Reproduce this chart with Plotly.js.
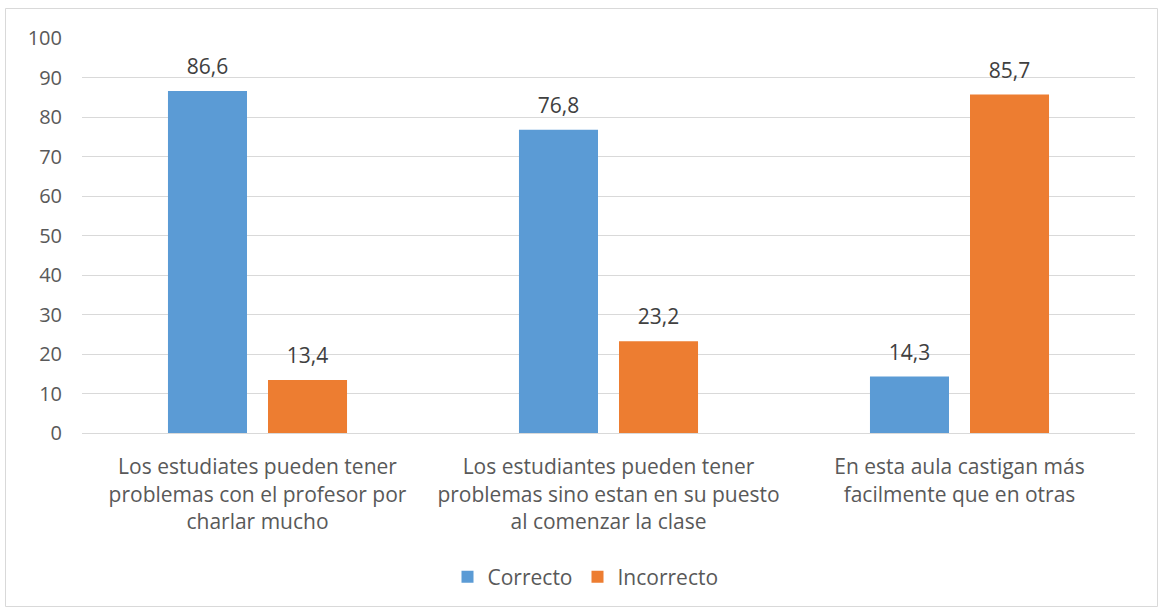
<!DOCTYPE html>
<html>
<head>
<meta charset="utf-8">
<script src="https://cdn.plot.ly/plotly-3.0.1.min.js"></script>
<style>html,body{margin:0;padding:0;background:#fff;}#chart{width:1160px;height:610px;}</style>
</head>
<body>
<div id="chart"></div>
<script>
const categories = [
  "Los estudiates pueden tener<br>problemas con el profesor por<br>charlar mucho",
  "Los estudiantes pueden tener<br>problemas sino estan en su puesto<br>al comenzar la clase",
  "En esta aula castigan más<br>facilmente que en otras"
];
const correcto = [86.6, 76.8, 14.3];
const incorrecto = [13.4, 23.2, 85.7];
const yTicks = [0,10,20,30,40,50,60,70,80,90,100];

const fmt = v => v.toFixed(1).replace('.', ',');
const FONT = "Open Sans, Noto Sans, sans-serif";
const L = 82, R = 1135, T = 38, B = 433;
const px = x => (x - L) / (R - L);
const py = y => (B - y) / (B - T);

function barTrace(name, vals, color, grp) {
  return {type:'bar', name:name, x:categories, y:vals, marker:{color:color},
    offsetgroup:grp, hoverinfo:'y'};
}
function labelTrace(vals, grp) {
  return {type:'scatter', mode:'markers+text', x:categories, y:vals, offsetgroup:grp,
    text:vals.map(fmt), textposition:'top center', cliponaxis:false, showlegend:false,
    marker:{size:17, opacity:0}, textfont:{family:FONT, size:21, color:'#404040'}, hoverinfo:'skip'};
}

const traces = [
  barTrace('Correcto', correcto, '#5B9BD5', 'c'),
  barTrace('Incorrecto', incorrecto, '#ED7D31', 'i'),
  labelTrace(correcto, 'c'),
  labelTrace(incorrecto, 'i')
];

const layout = {
  width:1160, height:610,
  margin:{l:L, r:1160-R, t:T, b:610-B},
  paper_bgcolor:'#fff', plot_bgcolor:'#fff',
  barmode:'group', scattermode:'group', bargap:0.43, bargroupgap:0.21,
  font:{family:FONT, size:20, color:'#595959'},
  xaxis:{type:'category', tickfont:{family:FONT, size:21, color:'#595959'},
    showline:true, linecolor:'#D9D9D9', linewidth:1, ticks:'', showgrid:false, automargin:false,
    ticklabelstandoff:15},
  yaxis:{range:[0,100], tickvals:yTicks, ticktext:yTicks.map(String), showgrid:true, gridcolor:'#D9D9D9',
    gridwidth:1, zeroline:false, showline:false, ticks:'', ticklen:0, ticklabelstandoff:19,
    tickfont:{family:FONT, size:20, color:'#595959'}, automargin:false},
  showlegend:true,
  legend:{orientation:'h', x:px(585.5), xanchor:'center', y:py(577), yanchor:'middle',
    font:{family:FONT, size:21, color:'#595959'}, itemwidth:30, traceorder:'normal'},
  shapes:[{type:'rect', xref:'paper', yref:'paper', x0:px(5.5), x1:px(1157.5), y0:py(606.5), y1:py(8.5),
    line:{color:'#D9D9D9', width:1}, fillcolor:'rgba(0,0,0,0)', layer:'below'}]
};

Plotly.newPlot('chart', traces, layout, {displayModeBar:false, staticPlot:true});
</script>
</body>
</html>
